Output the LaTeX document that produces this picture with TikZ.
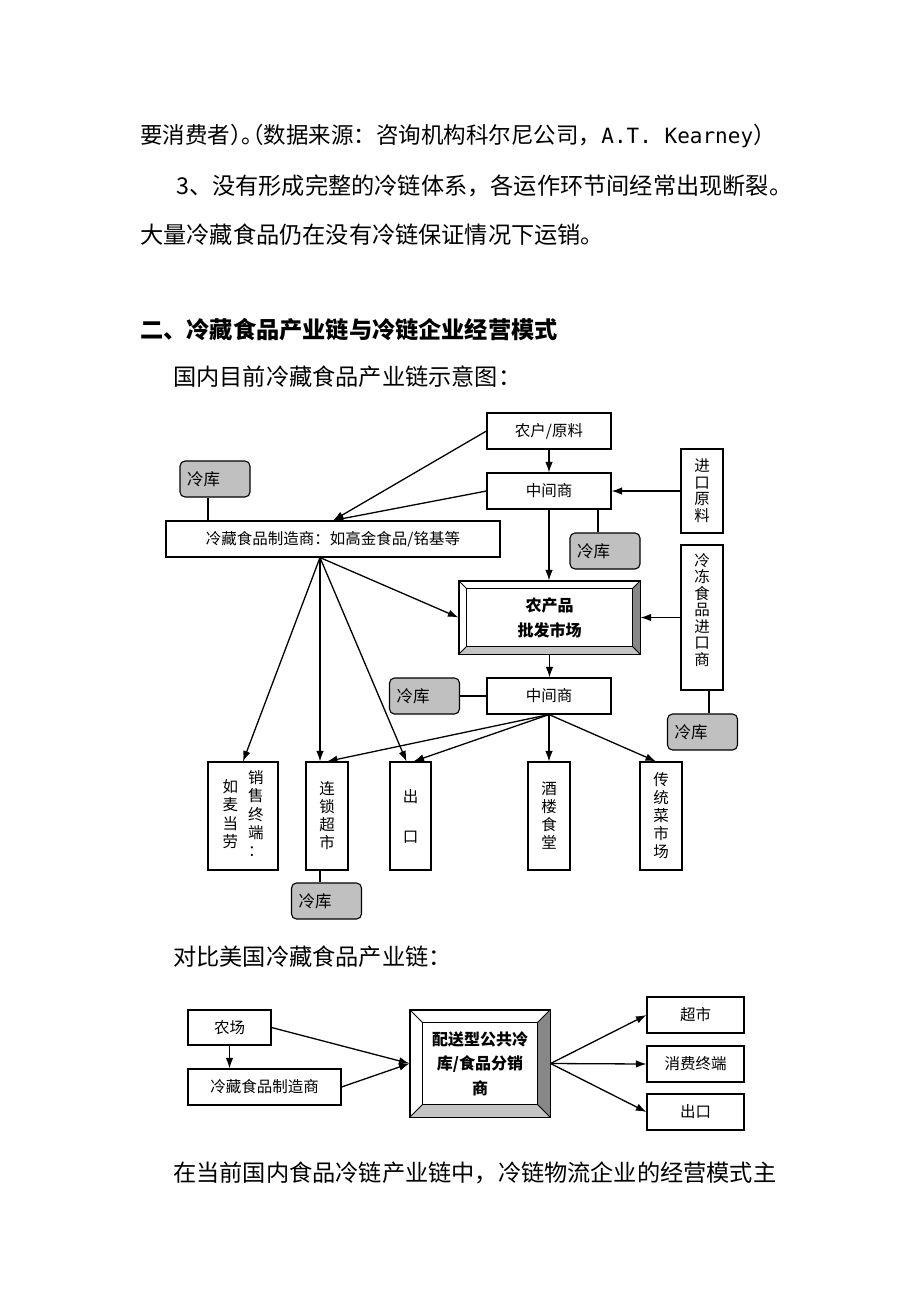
\documentclass[tikz,border=0pt]{standalone}
\usepackage{fontspec}
\setmainfont{Noto Sans CJK SC}
\newfontfamily\latinmono{DejaVu Sans Mono}
\newfontfamily\halfpunct[RawFeature=+halt]{Noto Sans CJK SC}
\usetikzlibrary{arrows.meta,calc}

\definecolor{coldgray}{RGB}{192,192,192}
\definecolor{bevdark}{RGB}{135,135,135}
\definecolor{bevlight}{RGB}{196,196,196}

% raised frame round a named node, #2 = width of the bevel
\newcommand\bevelframe[2]{%
  \fill[bevdark] (#1.north east) -- (#1.south east) -- ([xshift=-#2,yshift=#2]#1.south east) -- ([xshift=-#2,yshift=-#2]#1.north east) -- cycle;
  \fill[bevlight] (#1.south west) -- (#1.south east) -- ([xshift=-#2,yshift=#2]#1.south east) -- ([xshift=#2,yshift=#2]#1.south west) -- cycle;
  \draw[line width=1.1pt] (#1.north west) rectangle (#1.south east);
  \draw[line width=1pt] ([xshift=#2,yshift=-#2]#1.north west) rectangle ([xshift=-#2,yshift=#2]#1.south east);
  \foreach \a/\sx/\sy in {north west/1/-1, north east/-1/-1, south east/-1/1, south west/1/1}
    \draw[line width=1pt] (#1.\a) -- ([xshift=\sx*#2,yshift=\sy*#2]#1.\a);
}

\tikzset{
  box/.style={draw, line width=1.1pt, minimum width=124pt, minimum height=36pt, inner sep=0pt, font=\fontsize{15.5}{18}\selectfont},
  vbox/.style={box, minimum width=42pt, minimum height=108pt, align=center},
  cold/.style={draw, line width=1.1pt, fill=coldgray, rounded corners=5pt, minimum height=36pt, inner ysep=0pt, inner xsep=7pt, text width=56pt, align=left, font=\fontsize{16.5}{18}\selectfont},
  bev/.style={draw, line width=1.1pt, inner sep=0pt, align=center, font=\bfseries\fontsize{16}{25}\selectfont},
  arr/.style={-{Latex[length=10.5pt,width=7.5pt]}, line width=1.3pt},
  ln/.style={line width=1.1pt},
  para/.style={anchor=west, inner sep=0pt, font=\fontsize{23.2}{27}\selectfont}
}

\begin{document}
\begin{tikzpicture}[x=1pt,y=-1pt]
  \useasboundingbox (0,0) rectangle (920,1302);

  % running text
  \node[para, font=\fontsize{22.5}{27}\selectfont] (t1) at (140,136) {要消费者{\halfpunct ）。（}数据来源：咨询机构科尔尼公司，{\latinmono\fontsize{21}{27}\selectfont A.T. Kearney}）};
  \node[para] (t2) at (176,186) {3、没有形成完整的冷链体系，各运作环节间经常出现断裂。};
  \node[para] (t3) at (140,235) {大量冷藏食品仍在没有冷链保证情况下运销。};
  \node[para, font=\bfseries\fontsize{23.2}{27}\selectfont] (h2) at (140,330) {二、冷藏食品产业链与冷链企业经营模式};
  \node[para] (t4) at (173,377) {国内目前冷藏食品产业链示意图：};
  \node[para] (t5) at (173,957) {对比美国冷藏食品产业链：};
  \node[para] (t6) at (173,1173) {在当前国内食品冷链产业链中，冷链物流企业的经营模式主};

  % domestic chain
  \node[box] (farmer) at (549,431) {农户/原料};
  \node[box] (mid1) at (549,491) {中间商};
  \node[cold] (coldA) at (215,479) {冷库};
  \node[box, minimum width=334pt] (maker) at (333,539) {冷藏食品制造商：如高金食品/铭基等};
  \node[cold] (coldB) at (605,551) {冷库};
  \node[vbox, minimum height=84pt, font=\fontsize{15.5}{16.5}\selectfont] (imp) at (702,491) {进\\口\\原\\料};
  \node[vbox, minimum height=145pt, font=\fontsize{15.5}{16.5}\selectfont] (frozen) at (702,617.5) {冷\\冻\\食\\品\\进\\口\\商\\\mbox{}};
  \node[cold] (coldC) at (702.5,732) {冷库};
  \node[bev, minimum width=181pt, minimum height=73pt] (market) at (549.5,617.5) {农产品\\批发市场};
  \bevelframe{market}{8.5pt}
  \node[cold] (coldD) at (424.5,696) {冷库};
  \node[box] (mid2) at (549,696) {中间商};
  \node[vbox, minimum width=70pt] (mcd) at (243,816)
    {\begin{tabular}[c]{@{}c@{}}如\\麦\\当\\劳\end{tabular}\hspace{10pt}\begin{tabular}[c]{@{}c@{}}销\\售\\终\\端\\：\end{tabular}};
  \node[vbox] (chain) at (327,816) {连\\锁\\超\\市};
  \node[vbox, minimum width=41pt] (export) at (410.5,816) {出\\[22pt]口};
  \node[vbox] (rest) at (549,816) {酒\\楼\\食\\堂};
  \node[vbox] (wet) at (661,816) {传\\统\\菜\\市\\场};
  \node[cold] (coldE) at (326.5,901) {冷库};

  \draw[arr] (farmer) -- (mid1);
  \draw[arr] (farmer.west) -- (maker.north);
  \draw[arr] (mid1.west) -- (maker.north);
  \draw[arr] (imp.west) -- (mid1.east);
  \draw[arr] (mid1.south) -- (mid1.south |- market.north);
  \draw[arr] (frozen.west) -- (market.east);
  \draw[arr] (market.south) -- (market.south |- mid2.north);
  \draw[ln] ([xshift=-7pt]coldA.south) -- ([xshift=-7pt]coldA.south |- maker.north);
  \draw[ln] ([xshift=-7pt]coldB.north) -- ([xshift=-7pt]coldB.north |- mid1.south);
  \draw[ln] ([xshift=7pt]frozen.south) -- ([xshift=7pt]frozen.south |- coldC.north);
  \draw[ln] (coldD) -- (mid2);
  \draw[ln] ([xshift=-7pt]chain.south) -- ([xshift=-7pt]chain.south |- coldE.north);

  \coordinate (mk) at ([xshift=-13pt]maker.south);
  \draw[arr] (mk) -- (mcd.north);
  \draw[arr] (mk) -- ([xshift=-7pt]chain.north);
  \draw[arr] (mk) -- ([xshift=-4pt]export.north);
  \draw[arr] (mk) -- (market.west);
  \draw[arr] (mid2.south) -- (chain.north);
  \draw[arr] (mid2.south) -- ([xshift=3pt]export.north);
  \draw[arr] (mid2.south) -- (rest.north);
  \draw[arr] (mid2.south) -- ([xshift=-5pt]wet.north);

  % US chain
  \node[box, minimum width=83pt, minimum height=35pt] (farm) at (229.5,1027.5) {农场};
  \node[box, minimum width=153pt] (maker2) at (264.5,1087) {冷藏食品制造商};
  \node[bev, minimum width=140pt, minimum height=107pt, font=\bfseries\fontsize{16}{24.5}\selectfont] (dist) at (480,1063.5) {配送型公共冷\\库/食品分销\\商};
  \bevelframe{dist}{13pt}
  \node[box, minimum width=97pt] (sup) at (695.5,1015) {超市};
  \node[box, minimum width=97pt] (cons) at (695.5,1064) {消费终端};
  \node[box, minimum width=97pt] (exp2) at (695.5,1112) {出口};

  \draw[arr] (farm.south) -- (farm.south |- maker2.north);
  \draw[arr] (farm.east) -- (dist.west);
  \draw[arr] (maker2.east) -- (dist.west);
  \draw[arr] (dist.east) -- (sup.west);
  \draw[arr] (dist.east) -- (cons.west);
  \draw[arr] (dist.east) -- (exp2.west);
\end{tikzpicture}
\end{document}
